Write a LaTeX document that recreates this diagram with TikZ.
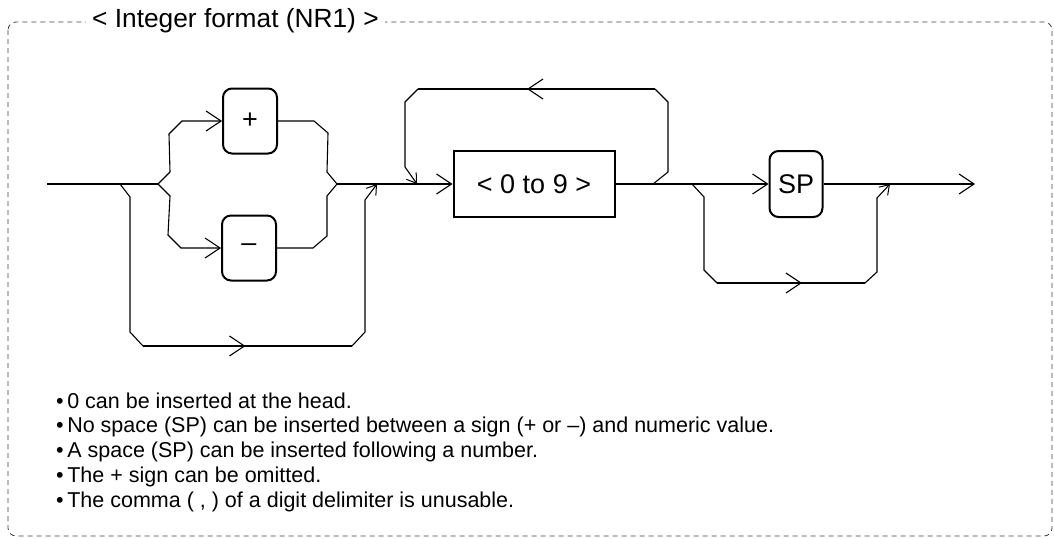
\documentclass[tikz,border=0pt]{standalone}
\usepackage{fontspec}
\setmainfont{Liberation Sans}
\usetikzlibrary{arrows.meta,calc,decorations.markings}
\begin{document}
\begin{tikzpicture}[x=1pt,y=-1pt,
  conn/.style={line width=1.1pt,line join=miter},
  arr/.style={-{Straight Barb[length=15pt,width=20pt,line width=1.1pt]}},
  sarr/.style={-{Straight Barb[length=9pt,width=12pt,line width=1pt]}},
  midarr/.style={postaction={decorate},decoration={markings,
      mark=at position #1 with {\arrow{Straight Barb[length=15pt,width=20pt,line width=1.1pt]}}}},
  rbox/.style={draw,line width=2pt,rounded corners=9pt,minimum width=54pt,minimum height=65pt,inner sep=0pt,font=\fontsize{27}{30}\selectfont},
  sbox/.style={draw,line width=2pt,minimum width=161pt,minimum height=66pt,inner sep=0pt,font=\fontsize{27}{30}\selectfont},
  frame/.style={draw=black!75,line width=0.8pt,dash pattern=on 5pt off 4pt,rounded corners=8pt},
  title/.style={fill=white,inner xsep=6pt,inner ysep=2pt,anchor=west,font=\fontsize{26.3}{28}\selectfont},
  note/.style={anchor=base west,inner sep=0pt,font=\fontsize{21.5}{24}\selectfont}
]
\useasboundingbox (0,0) rectangle (1054,538);
% frame
\draw[frame] (8,22) rectangle (1052,536);
\node[title] (ttl) at (86,21) {< Integer format (NR1) >};

% nodes
\node[rbox] (plus) at (250,121) {+};
\node[rbox] (minus) at (249,248) {\textendash};
\node[sbox] (digits) at (534,184) {< 0 to 9 >};
\node[rbox,minimum width=53pt,minimum height=66pt] (sp) at (796,184) {SP};

\coordinate (start) at (47,184);
\coordinate (byin) at (120,184);
\coordinate (s1) at (158,184);
\coordinate (j1) at (337,184);
\coordinate (byout) at (377,184);
\coordinate (lp2) at (417,184);
\coordinate (lp1) at (653,184);
\coordinate (spin) at (692,184);
\coordinate (spout) at (890,184);
\coordinate (end) at (975,184);

% main line
\draw[conn] (start) -- (s1);
\draw[conn,arr] (j1) -- (digits.west);
\draw[conn,arr] (digits.east) -- (sp.west);
\draw[conn,arr] (sp.east) -- (end);

% sign branches
\draw[conn,arr] (s1) -- ++(12,-12) -- ($(plus.west)+(-53,13)$) -- ($(plus.west)+(-40,0)$) -- (plus.west);
\draw[conn] (plus.east) -- ++(36,0) -- ++(14,12) -- ($(j1)+(-10,-12)$) -- (j1);
\draw[conn,arr] (s1) -- ++(12,12) -- ($(minus.west)+(-53,-13)$) -- ($(minus.west)+(-40,0)$) -- (minus.west);
\draw[conn] (minus.east) -- ++(36,0) -- ++(14,-12) -- ($(j1)+(-10,12)$) -- (j1);

% bypass of sign
\draw[conn] (byin) -- ++(10,13) -- ++(0,135) -- ++(13,14) coordinate (b1);
\coordinate (b2) at ($(b1)+(209,0)$);
\draw[conn,midarr=0.49] (b1) -- (b2);
\draw[conn,sarr] (b2) -- ++(13,-14) -- ++(0,-132) -- (byout);

% repeat loop
\draw[conn] (lp1) -- ++(15,-12) -- ++(0,-70) -- ++(-13,-13) coordinate (l1);
\coordinate (l2) at ($(l1)+(-237,0)$);
\draw[conn,midarr=0.54] (l1) -- (l2);
\draw[conn,sarr] (l2) -- ++(-13,13) -- ++(0,65) -- (lp2);

% SP bypass
\draw[conn] (spin) -- ++(12,13) -- ++(0,73) -- ++(13,13) coordinate (p1);
\coordinate (p2) at ($(p1)+(148,0)$);
\draw[conn,midarr=0.574] (p1) -- (p2);
\draw[conn,sarr] (p2) -- ++(12,-11) -- ++(0,-74) -- (spout);

% notes
\node[note] (n1) at (56,408) {\textbullet\,0 can be inserted at the head.};
\node[note] (n2) at (56,432.7) {\textbullet\,No space (SP) can be inserted between a sign (+ or \textendash) and numeric value.};
\node[note] (n3) at (56,457.5) {\textbullet\,A space (SP) can be inserted following a number.};
\node[note] (n4) at (56,482.2) {\textbullet\,The + sign can be omitted.};
\node[note] (n5) at (56,507) {\textbullet\,The comma ( , ) of a digit delimiter is unusable.};
\end{tikzpicture}
\end{document}
